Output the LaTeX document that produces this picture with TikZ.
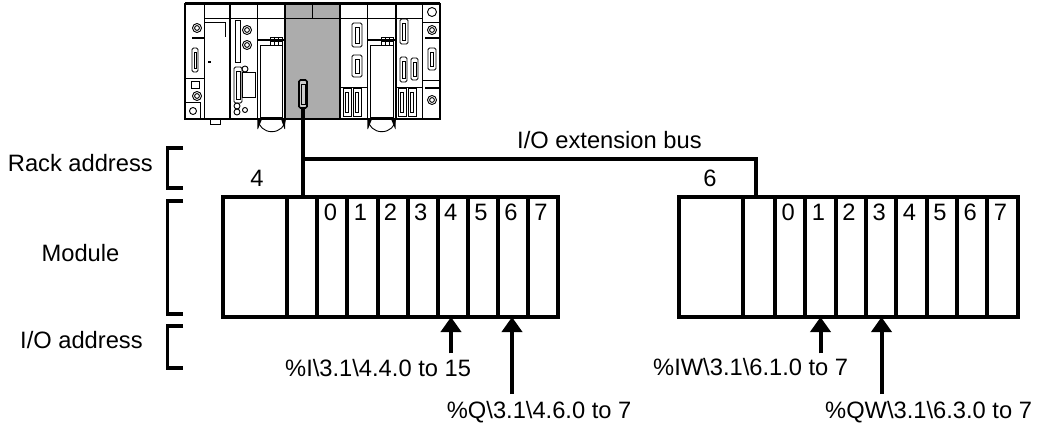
\documentclass[tikz,border=0pt]{standalone}
\usepackage{fontspec}
\setmainfont{Liberation Sans}
\usetikzlibrary{arrows.meta}
\begin{document}
\begin{tikzpicture}[x=1pt,y=-1pt,
  every node/.style={font=\fontsize{23.7}{28}\selectfont, inner sep=0pt},
  slot/.style={draw, line width=4pt, minimum height=120pt, inner sep=0pt},
  bus/.style={line width=4pt},
  brk/.style={line width=3.8pt},
  arr/.style={line width=4pt, -{Triangle[width=20pt,length=15pt]}, shorten >=-2pt},
  plc/.style={line width=0.9pt},
  plcthick/.style={line width=1.6pt}]
\useasboundingbox (0,0) rectangle (1039,428);

% ---------------- PLC rack picture ----------------
\fill[gray!65] (285,4) rectangle (340,119);
\begin{scope}[plc]
  \draw[plcthick] (185,4) rectangle (440,119);
  \draw[line width=3pt] (185,4) -- (440,4);
  \foreach \x in {204.3,230,257.3,285,340,367.3,395.7,422.3}
    \draw[plcthick] (\x,4) -- (\x,119);
  \draw (204.3,18) -- (422.3,18);
  \draw (312,4) -- (312,18);
  % module 1
  \draw (197,28) circle (4.5); \draw (197,28) circle (2.4);
  \draw[line width=1.8pt] (192,38) -- (204.3,38);
  \draw[rounded corners=1.5pt] (192,48) rectangle (198,72); \draw (194,52) rectangle (196,68);
  \fill (208,61) rectangle (211,63);
  \draw (185,78) -- (204.3,78);
  \draw (191,81) rectangle (199,88);
  \draw (197,96) circle (4.5); \draw (197,96) circle (2.4);
  \draw (185,102) -- (200,102) -- (200,119);
  \draw (193,111) circle (3.5);
  % module 2
  \draw (204.3,22) -- (225,22) -- (225,37);
  \draw (210,119) rectangle (220,124);
  % module 3
  \draw (235,20) rectangle (240,62);
  \draw (247,30) circle (4.5); \draw (247,30) circle (2.4);
  \draw (247,45) circle (4.5); \draw (247,45) circle (2.4);
  \draw[rounded corners=1.5pt] (234,67) rectangle (242,103); \draw (236,71) rectangle (240,99);
  \draw (242,72) rectangle (255,97);
  \draw (245,69) circle (3);
  \draw (237,106) circle (3); \draw (237,112) circle (3); \draw (245,110) circle (2.5);
  % module 4
  \draw[line width=1.8pt] (257.3,40) -- (285,40);
  \draw (270,37) rectangle (282,45); \draw (274,37) -- (274,45); \draw (278,37) -- (278,45); \draw (270,41) -- (282,41);
  \draw (260,45) rectangle (282,117);
  \draw (258,119) arc[start angle=180,end angle=0,x radius=13.8,y radius=12.7];
  \fill (257.3,119) -- (262,119) -- (258,129) -- (257.3,129) -- cycle;
  \fill (285,119) -- (281,119) -- (284.5,129) -- (285,129) -- cycle;
  % module 6
  \draw[rounded corners=1.5pt] (352,23) rectangle (362,47); \draw (355,27) rectangle (359,43);
  \draw[rounded corners=1.5pt] (352,55) rectangle (362,77); \draw (355,59) rectangle (359,73);
  \draw (340,87) -- (367.3,87);
  \draw (343,88) rectangle (351,116); \draw (345.5,92) rectangle (348.5,112);
  \draw (353,88) rectangle (361,116); \draw (355.5,92) rectangle (358.5,112);
  % module 7
  \draw[line width=1.8pt] (367.3,40) -- (395.7,40);
  \draw (381,37) rectangle (393,45); \draw (385,37) -- (385,45); \draw (389,37) -- (389,45); \draw (381,41) -- (393,41);
  \draw (370,45) rectangle (393,117);
  \draw (368,119) arc[start angle=180,end angle=0,x radius=13.8,y radius=12.7];
  \fill (367.3,119) -- (372,119) -- (368,129) -- (367.3,129) -- cycle;
  \fill (395.7,119) -- (391,119) -- (395.2,129) -- (395.7,129) -- cycle;
  % module 8
  \draw[rounded corners=1.5pt] (400,19) rectangle (408,44); \draw (402.5,23) rectangle (405.5,40);
  \draw[rounded corners=1.5pt] (400,57) rectangle (407,82); \draw (402,61) rectangle (405,78);
  \draw[rounded corners=1.5pt] (411,58) rectangle (418,80); \draw (413,62) rectangle (416,76);
  \draw (395.7,87) -- (422.3,87);
  \draw (398,88) rectangle (406,116); \draw (400.5,92) rectangle (403.5,112);
  \draw (408,88) rectangle (416,116); \draw (410.5,92) rectangle (413.5,112);
  % module 9
  \draw (432,12) circle (4.5);
  \draw (422.3,22) -- (440,22);
  \draw (432,30) circle (4.5); \draw (432,30) circle (2.4);
  \draw[line width=1.8pt] (425,38) -- (440,38);
  \draw[rounded corners=1.5pt] (428,48) rectangle (436,70); \draw (430.5,52) rectangle (433.5,66);
  \draw (422.3,80) -- (440,80);
  \draw[line width=1.8pt] (425,88) -- (440,88);
  \draw (432,100) circle (4.5); \draw (432,100) circle (2.4);
\end{scope}
% bus connector on the gray module
\node[draw, plcthick, rounded corners=1.5pt, minimum width=8pt, minimum height=28pt, fill=gray!40] (conn) at (303,94) {};
\draw[plc] (301,84) rectangle (305,104);

% ---------------- rack 4 ----------------
\node[slot, minimum width=64.6pt] (L0) at (255,257) {};
\node[slot, minimum width=30pt] (L1) at (302.3,257) {};
\foreach \k in {0,...,7} {
  \node[slot, minimum width=30.1pt] (Ls\k) at ({317.3+30.1*(\k+0.5)},257) {};
  \node[anchor=base] (dL\k) at ({315.3+30.1*(\k+0.5)},220) {\k};
}
% ---------------- rack 6 ----------------
\node[slot, minimum width=64pt] (R0) at (711.3,257) {};
\node[slot, minimum width=31.7pt] (R1) at (759.15,257) {};
\foreach \k in {0,...,7} {
  \node[slot, minimum width=30.34pt] (Rs\k) at ({775+30.34*(\k+0.5)},257) {};
  \node[anchor=base] (dR\k) at ({773+30.34*(\k+0.5)},220) {\k};
}

% ---------------- bus ----------------
\coordinate (busY) at (0,158.7);
\draw[bus] (conn.south) -- (conn.south |- L1.north);
\draw[bus] (conn.south |- busY) -| ([xshift=-3pt]R1.north);
\node[anchor=base west] (buslabel) at (517,148.3) {I/O extension bus};
\node[anchor=base] (rack4) at (257,186.7) {4};
\node[anchor=base] (rack6) at (710,186.7) {6};

% ---------------- left legend ----------------
\node[anchor=base east] (lrack) at (153,171.7) {Rack address};
\node[anchor=base] (lmod) at (80.5,261.7) {Module};
\node[anchor=base west] (lio) at (20,348) {I/O address};
\draw[brk] (183,148.3) -| (167.5,188.3) -- (183,188.3);
\draw[brk] (183,200.7) -| (167.5,314.3) -- (183,314.3);
\draw[brk] (183,325.7) -| (167.5,367.7) -- (183,367.7);

% ---------------- address arrows ----------------
\coordinate (aI) at (451,353.3);
\coordinate (aQ) at (512,394);
\coordinate (aIW) at (820.5,353.3);
\coordinate (aQW) at (881.5,394);
\draw[arr] (aI) -- (aI |- Ls4.south);
\draw[arr] (aQ) -- (aQ |- Ls6.south);
\draw[arr] (aIW) -- (aIW |- Rs1.south);
\draw[arr] (aQW) -- (aQW |- Rs3.south);
\node[anchor=base west] (tI) at (285,376.7) {\%I\textbackslash 3.1\textbackslash 4.4.0 to 15};
\node[anchor=base west] (tQ) at (446.7,418) {\%Q\textbackslash 3.1\textbackslash 4.6.0 to 7};
\node[anchor=base west] (tIW) at (653,375) {\%IW\textbackslash 3.1\textbackslash 6.1.0 to 7};
\node[anchor=base west] (tQW) at (825,418) {\%QW\textbackslash 3.1\textbackslash 6.3.0 to 7};
\end{tikzpicture}
\end{document}
